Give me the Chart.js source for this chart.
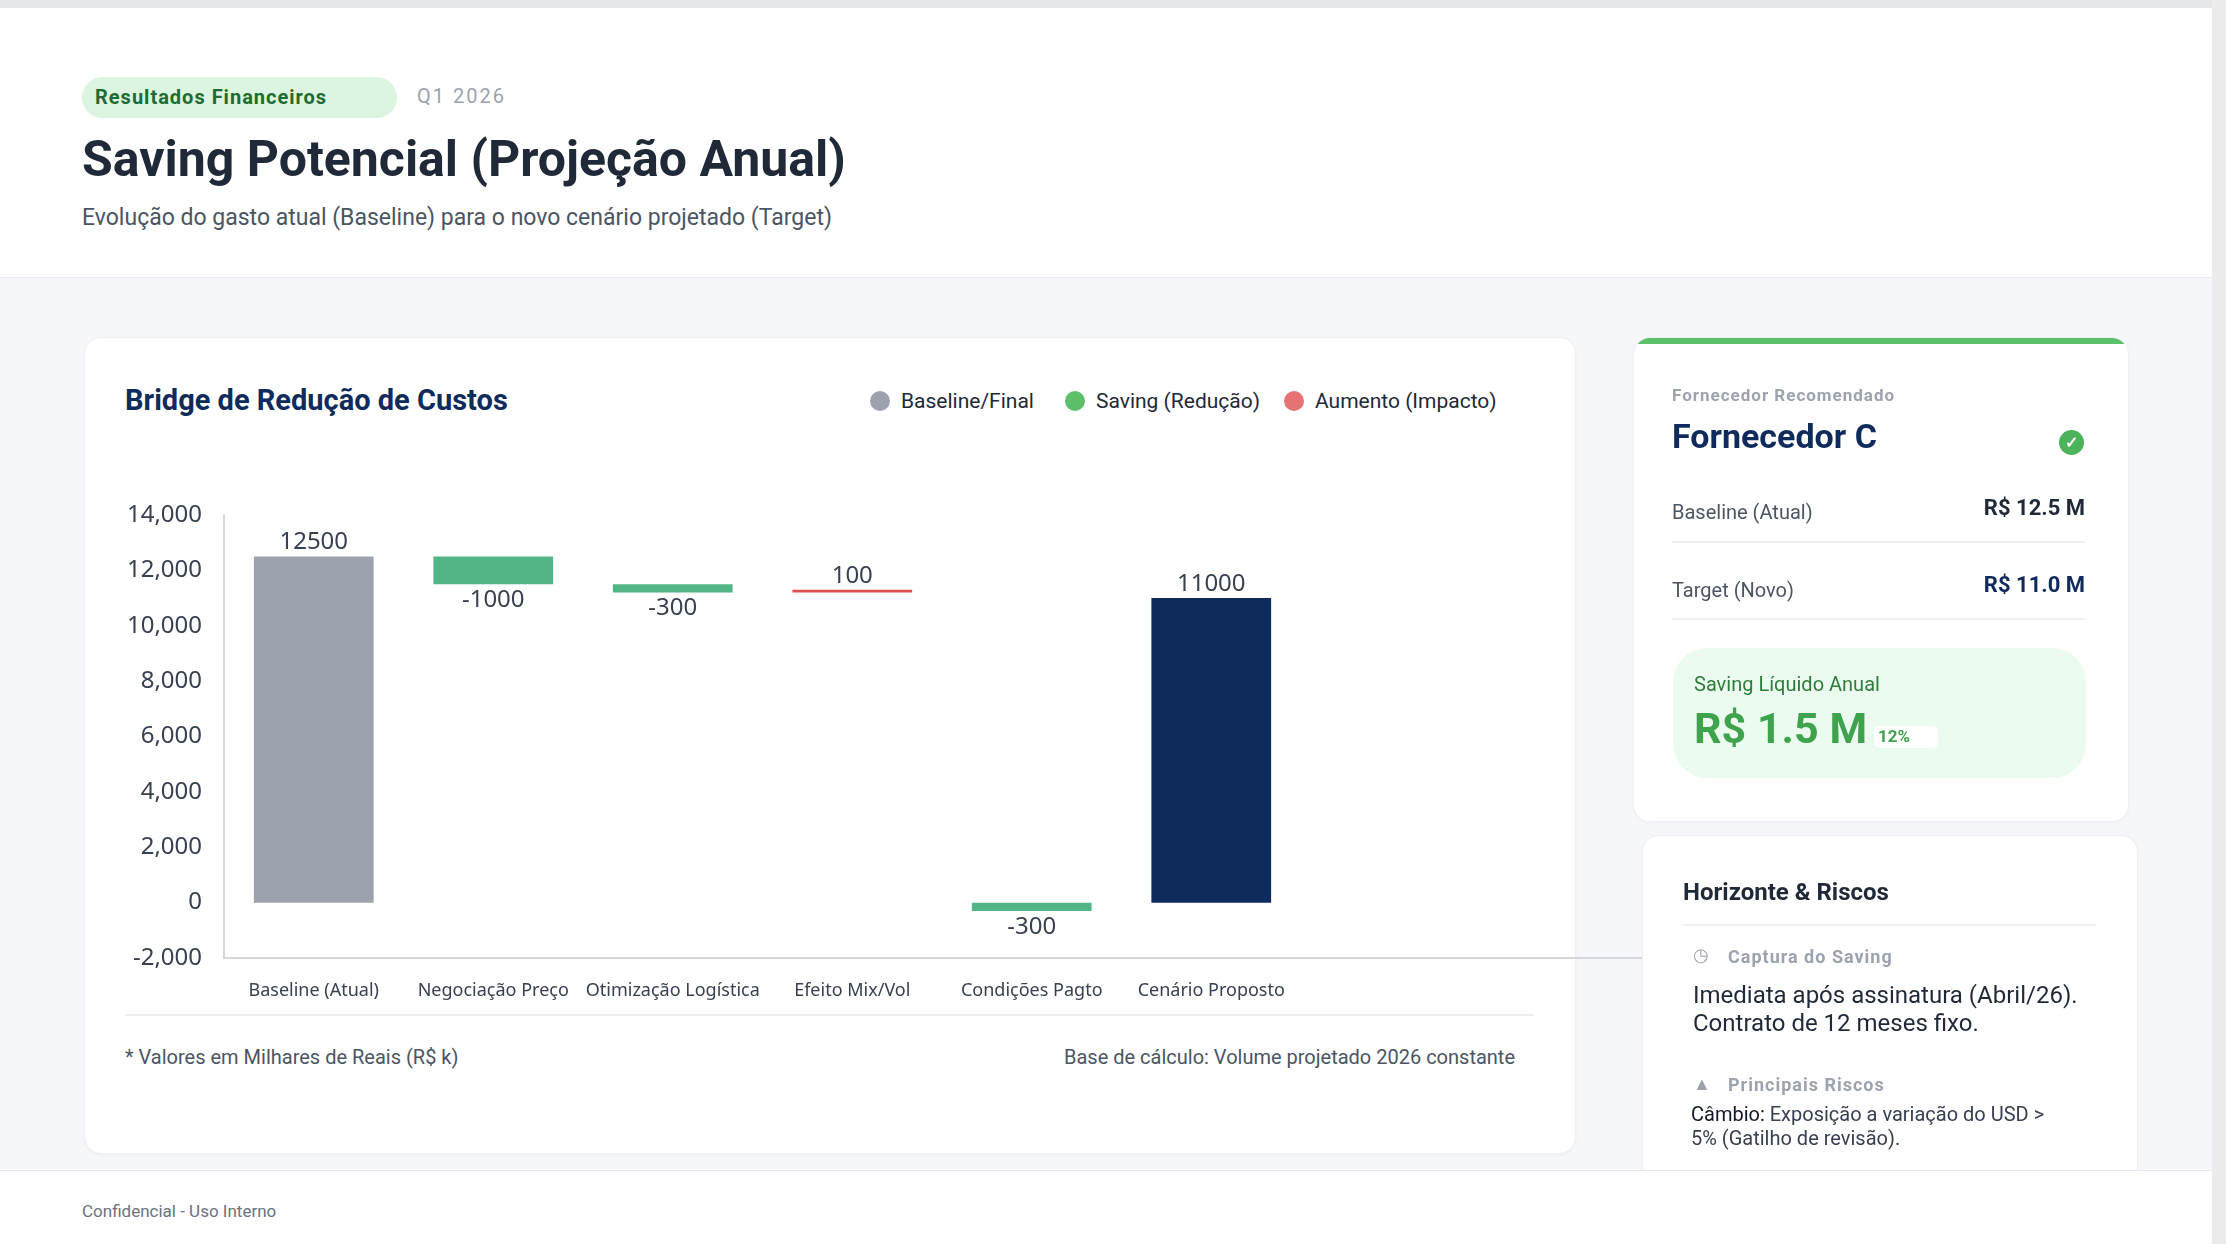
<!DOCTYPE html>
<html>
<head>
<meta charset="utf-8">
<script src="https://cdn.jsdelivr.net/npm/chart.js@4.4.1/dist/chart.umd.min.js"></script>
<style>
  html, body { margin: 0; padding: 0; }
  body { width: 2226px; height: 1244px; position: relative; overflow: hidden; background: #f5f7fa; font-family: Roboto, "Noto Sans", sans-serif; }
  .abs { position: absolute; }
  #topline { left: 0; top: 0; width: 2212px; height: 8px; background: #e6e7e9; }
  #header { left: 0; top: 8px; width: 2212px; height: 269px; background: #fff; border-bottom: 1px solid #e8ebef; }
  #pill { left: 82px; top: 77px; width: 315px; height: 41px; border-radius: 21px; background: #dcf5e1; color: #1f6b34; font-weight: 700; font-size: 20px; letter-spacing: 1px; line-height: 41px; box-sizing: border-box; padding-left: 13px; }
  #q1 { left: 417px; top: 84px; font-size: 20px; color: #9ca3af; letter-spacing: 2px; }
  #title { left: 82px; top: 130px; font-size: 50px; font-weight: 700; color: #1f2937; }
  #subtitle { left: 82px; top: 204px; font-size: 23px; color: #4b5563; }
  .card { background: #fff; border-radius: 17px; box-shadow: 0 1px 3px rgba(0,0,0,0.04); border: 1px solid #eef0f3; }
  #chartCard { left: 84px; top: 337px; width: 1490px; height: 815px; }
  #chartTitle { left: 125px; top: 383px; font-size: 29px; font-weight: 700; color: #0f2b5b; }
  .leg { top: 389px; font-size: 21px; color: #1f2937; display: flex; align-items: center; }
  .dot { width: 20px; height: 20px; border-radius: 50%; margin-right: 11px; }
  #wrap { left: 125px; top: 480px; width: 1535px; height: 525px; }
  #divider { left: 125px; top: 1014px; width: 1409px; height: 2px; background: #eceef1; }
  #note1 { left: 125px; top: 1045px; font-size: 20px; color: #4b5563; }
  #note2 { left: 1064px; top: 1045px; font-size: 20px; color: #4b5563; }
  #card1 { left: 1633px; top: 337px; width: 494px; height: 483px; overflow: hidden; }
  #card1 .bar { left: 0; top: 0; width: 100%; height: 6px; background: #5cbf6a; }
  #card2 { left: 1642px; top: 835px; width: 494px; height: 400px; }
  #footer { left: 0; top: 1170px; width: 2212px; height: 74px; background: #fff; border-top: 1px solid #e5e7eb; }
  #conf { left: 82px; top: 1201px; font-size: 17px; color: #6b7280; }
  #scroll { left: 2212px; top: 0; width: 14px; height: 1244px; background: #ececec; }
</style>
</head>
<body>
<div id="topline" class="abs"></div>
<div id="header" class="abs"></div>
<div id="pill" class="abs">Resultados Financeiros</div>
<div id="q1" class="abs">Q1 2026</div>
<div id="title" class="abs">Saving Potencial (Projeção Anual)</div>
<div id="subtitle" class="abs">Evolução do gasto atual (Baseline) para o novo cenário projetado (Target)</div>

<div id="chartCard" class="abs card"></div>
<div id="chartTitle" class="abs">Bridge de Redução de Custos</div>
<div class="abs leg" style="left:870px"><span class="dot" style="background:#9ca3af"></span>Baseline/Final</div>
<div class="abs leg" style="left:1065px"><span class="dot" style="background:#5cbf6a"></span>Saving (Redução)</div>
<div class="abs leg" style="left:1284px"><span class="dot" style="background:#e57373"></span>Aumento (Impacto)</div>

<div id="wrap" class="abs"><canvas id="chart"></canvas></div>
<div id="divider" class="abs"></div>
<div id="note1" class="abs">* Valores em Milhares de Reais (R$ k)</div>
<div id="note2" class="abs">Base de cálculo: Volume projetado 2026 constante</div>

<div id="card1" class="abs card">
  <div class="abs bar"></div>
  <div class="abs" style="left:38px;top:47px;font-size:17px;font-weight:700;color:#9ca3af;letter-spacing:1px">Fornecedor Recomendado</div>
  <div class="abs" style="left:38px;top:78px;font-size:34px;font-weight:700;color:#0f2b5b">Fornecedor C</div>
  <div class="abs" style="left:425px;top:92px;width:25px;height:25px;border-radius:50%;background:#4cb35c;color:#fff;font-size:16px;line-height:25px;text-align:center;font-weight:700">✓</div>
  <div class="abs" style="left:38px;top:162px;font-size:20px;color:#4b5563">Baseline (Atual)</div>
  <div class="abs" style="right:43px;top:157px;font-size:22px;font-weight:700;color:#1f2937">R$ 12.5 M</div>
  <div class="abs" style="left:38px;top:203px;width:413px;height:2px;background:#eef0f3"></div>
  <div class="abs" style="left:38px;top:240px;font-size:20px;color:#4b5563">Target (Novo)</div>
  <div class="abs" style="right:43px;top:234px;font-size:22px;font-weight:700;color:#0f2b5b">R$ 11.0 M</div>
  <div class="abs" style="left:38px;top:280px;width:413px;height:2px;background:#eef0f3"></div>
  <div class="abs" style="left:39px;top:310px;width:413px;height:130px;border-radius:34px;background:#ecfbef"></div>
  <div class="abs" style="left:60px;top:334px;font-size:20px;color:#2f7d3a">Saving Líquido Anual</div>
  <div class="abs" style="left:60px;top:365px;font-size:43px;font-weight:700;color:#3fa34d">R$ 1.5 M</div>
  <div class="abs" style="left:240px;top:388px;width:60px;height:22px;border-radius:5px;background:#fff;color:#3fa34d;font-size:17px;font-weight:700;padding-left:4px">12%</div>
</div>

<div id="card2" class="abs card">
  <div class="abs" style="left:40px;top:42px;font-size:24px;font-weight:700;color:#1f2937">Horizonte &amp; Riscos</div>
  <div class="abs" style="left:40px;top:88px;width:413px;height:2px;background:#eef0f3"></div>
  <div class="abs" style="left:50px;top:108px;font-size:18px;color:#9ca3af">◷</div>
  <div class="abs" style="left:85px;top:110px;font-size:18px;font-weight:700;color:#9ca3af;letter-spacing:1px">Captura do Saving</div>
  <div class="abs" style="left:50px;top:145px;font-size:24px;color:#1f2937;line-height:28px">Imediata após assinatura (Abril/26).<br>Contrato de 12 meses fixo.</div>
  <div class="abs" style="left:50px;top:237px;font-size:18px;color:#9ca3af">▲</div>
  <div class="abs" style="left:85px;top:238px;font-size:18px;font-weight:700;color:#9ca3af;letter-spacing:1px">Principais Riscos</div>
  <div class="abs" style="left:48px;top:266px;font-size:20px;color:#374151;line-height:24px"><span style="color:#111827">Câmbio:</span> Exposição a variação do USD &gt;<br>5% (Gatilho de revisão).</div>
</div>

<div id="footer" class="abs"></div>
<div id="conf" class="abs">Confidencial - Uso Interno</div>
<div id="scroll" class="abs"></div>

<script>
// bridge data (R$ k)
var categories = ['Baseline (Atual)', 'Negociação Preço', 'Otimização Logística', 'Efeito Mix/Vol', 'Condições Pagto', 'Cenário Proposto', '', ''];
var deltas = [12500, -1000, -300, 100, -300, 11000];
var barStart = [0, 12500, 11500, 11200, 0, 0];
var barEnd = [12500, 11500, 11200, 11300, -300, 11000];
var barColors = ['#9ca3af', '#52b586', '#52b586', '#e0524f', '#52b586', '#0f2b5b'];

var ranges = barStart.map(function(s, i) { return [s, barEnd[i]]; });

// draws the value above/below each bar
var valueLabels = {
    id: 'valueLabels',
    afterDatasetsDraw: function(chart) {
        var ctx = chart.ctx;
        var meta = chart.getDatasetMeta(0);
        var yScale = chart.scales.y;
        ctx.save();
        ctx.font = '24px "Noto Sans", sans-serif';
        ctx.fillStyle = '#374151';
        ctx.textAlign = 'center';
        meta.data.forEach(function(bar, i) {
            var top = yScale.getPixelForValue(Math.max(barStart[i], barEnd[i]));
            var bottom = yScale.getPixelForValue(Math.min(barStart[i], barEnd[i]));
            if (deltas[i] < 0) {
                ctx.textBaseline = 'top';
                ctx.fillText(String(deltas[i]), bar.x, bottom + 4);
            } else {
                ctx.textBaseline = 'bottom';
                ctx.fillText(String(deltas[i]), bar.x, top - 2);
            }
        });
        ctx.restore();
    }
};

var ctx = document.getElementById('chart').getContext('2d');
new Chart(ctx, {
    type: 'bar',
    data: {
        labels: categories,
        datasets: [{
            data: ranges,
            backgroundColor: barColors,
            borderSkipped: false,
            barPercentage: 1,
            categoryPercentage: 0.667
        }]
    },
    options: {
        responsive: true,
        maintainAspectRatio: false,
        animation: false,
        layout: { padding: { top: 35, right: 0 } },
        plugins: { legend: { display: false }, tooltip: { enabled: false } },
        scales: {
            x: {
                grid: { display: false },
                border: { color: '#d4d7dc', width: 2 },
                ticks: { color: '#374151', font: { size: 18, family: '"Noto Sans", sans-serif' }, maxRotation: 0, padding: 14 },
                afterFit: function(scale) { scale.height = 47; }
            },
            y: {
                min: -2000,
                max: 14000,
                grid: { display: false },
                border: { color: '#d4d7dc', width: 2 },
                ticks: { stepSize: 2000, color: '#374151', font: { size: 24, family: '"Noto Sans", sans-serif' }, padding: 14 },
                afterFit: function(scale) { scale.width = 99; }
            }
        }
    },
    plugins: [valueLabels]
});
</script>
</body>
</html>
